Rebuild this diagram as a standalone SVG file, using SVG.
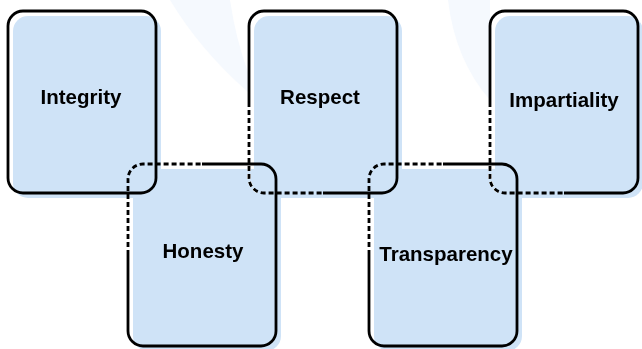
<svg xmlns="http://www.w3.org/2000/svg" width="642" height="349" viewBox="0 0 642 349">
<style>
.bg{fill:#f5f9fe}
.fill{fill:#cfe3f7;mix-blend-mode:darken}
.solid{fill:none;stroke:#000;stroke-width:2.8}
.dash{fill:none;stroke:#000;stroke-width:2.8;stroke-dasharray:5 3}
.lbl{font-family:"Liberation Sans",Arial,sans-serif;font-weight:bold;font-size:20.5px;fill:#000;text-anchor:middle}
</style>
<rect width="642" height="349" fill="#fff"/>
<g id="watermark">
<path class="bg" d="M170,0 L230,0 Q236,40 248,72 L248,92 Q200,50 170,0 Z"/>
<path class="bg" d="M448,0 Q455,60 490,100 L490,0 Z"/>
</g>
<g id="integrity">
<rect class="fill" x="13" y="16" width="148" height="182" rx="15"/>
<rect class="solid" x="8" y="11" width="148" height="182" rx="15"/>
<text class="lbl" x="81" y="104">Integrity</text>
</g>
<g id="respect">
<rect class="fill" x="254" y="16" width="148" height="182" rx="15"/>
<path class="solid" d="M323,193 H382 A15,15 0 0 0 397,178 V26 A15,15 0 0 0 382,11 H264 A15,15 0 0 0 249,26 V102"/>
<path class="dash" d="M249,102 V178 A15,15 0 0 0 264,193 H323"/>
<text class="lbl" x="320" y="104">Respect</text>
</g>
<g id="impartiality">
<rect class="fill" x="495" y="16" width="148" height="182" rx="15"/>
<path class="solid" d="M564,193 H623 A15,15 0 0 0 638,178 V26 A15,15 0 0 0 623,11 H505 A15,15 0 0 0 490,26 V102"/>
<path class="dash" d="M490,102 V178 A15,15 0 0 0 505,193 H564"/>
<text class="lbl" x="564" y="107">Impartiality</text>
</g>
<g id="honesty">
<rect class="fill" x="133" y="169" width="148" height="182" rx="15"/>
<path class="solid" d="M202,164 H261 A15,15 0 0 1 276,179 V331 A15,15 0 0 1 261,346 H143 A15,15 0 0 1 128,331 V255"/>
<path class="dash" d="M128,255 V179 A15,15 0 0 1 143,164 H202"/>
<text class="lbl" x="203" y="258">Honesty</text>
</g>
<g id="transparency">
<rect class="fill" x="374" y="169" width="148" height="182" rx="15"/>
<path class="solid" d="M443,164 H502 A15,15 0 0 1 517,179 V331 A15,15 0 0 1 502,346 H384 A15,15 0 0 1 369,331 V255"/>
<path class="dash" d="M369,255 V179 A15,15 0 0 1 384,164 H443"/>
<text class="lbl" x="446" y="261">Transparency</text>
</g>
<g id="connectors"></g>
</svg>
